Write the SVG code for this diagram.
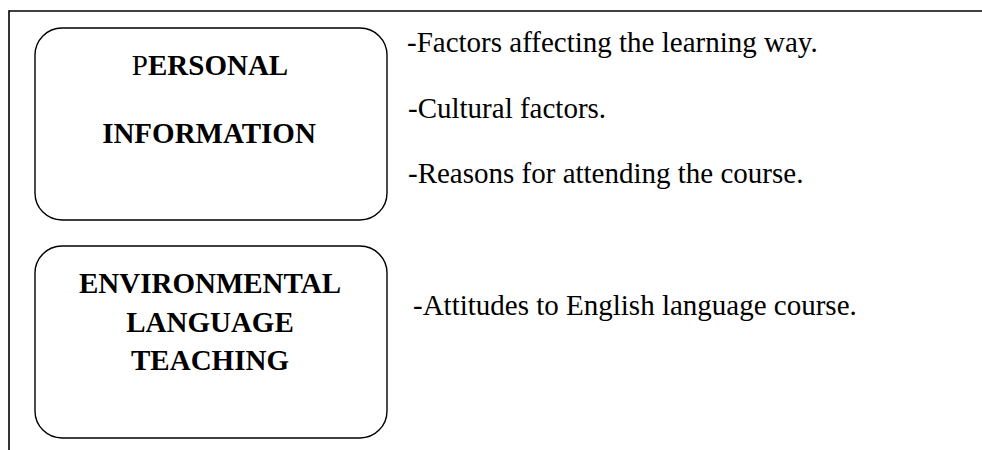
<svg xmlns="http://www.w3.org/2000/svg" width="982" height="450" viewBox="0 0 982 450">
<style>
.frame{stroke:#000;stroke-width:1.6;fill:none}
.box{stroke:#000;stroke-width:1.4;fill:#fff}
.t{font-family:"Liberation Serif","Times New Roman",serif;font-size:29px;fill:#000}
.b{font-weight:bold;text-anchor:middle}
</style>
<g id="frame">
<line class="frame" x1="9" y1="11" x2="982" y2="11"/>
<line class="frame" x1="9" y1="10.2" x2="9" y2="450"/>
</g>
<g id="personal">
<rect class="box" x="35" y="28" width="352" height="192" rx="27" ry="27"/>
<text class="t b" x="210" y="75"><tspan font-weight="normal">P</tspan>ERSONAL</text>
<text class="t b" x="209" y="143">INFORMATION</text>
</g>
<g id="environmental">
<rect class="box" x="35" y="246" width="352" height="192" rx="27" ry="27"/>
<text class="t b" x="210" y="293">ENVIRONMENTAL</text>
<text class="t b" x="210" y="332">LANGUAGE</text>
<text class="t b" x="210" y="370">TEACHING</text>
</g>
<g id="personal-items">
<text class="t" x="407" y="52">-Factors affecting the learning way.</text>
<text class="t" x="408" y="118">-Cultural factors.</text>
<text class="t" x="408" y="183">-Reasons for attending the course.</text>
</g>
<g id="environmental-items">
<text class="t" x="413" y="315">-Attitudes to English language course.</text>
</g>
<g id="connectors"></g>
</svg>
